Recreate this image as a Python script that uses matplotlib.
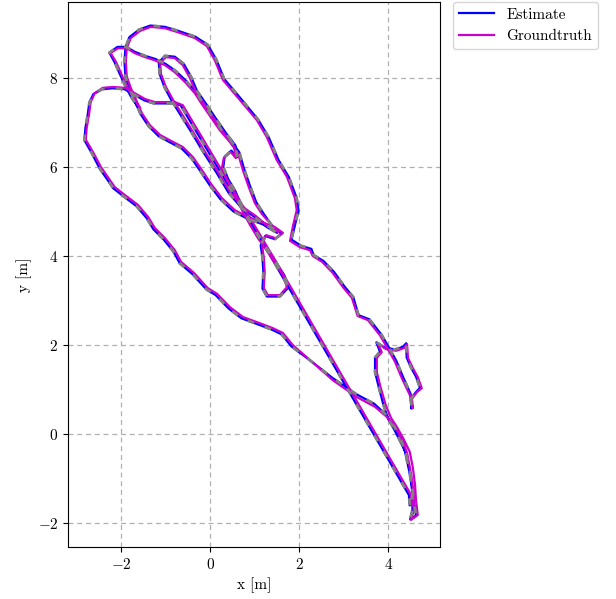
import matplotlib
matplotlib.use('Agg')
import matplotlib.pyplot as plt

# groundtruth trajectory [m]
gt_x = [4.53, 4.51, 1.40, -0.62, -0.80, -1.02, -1.25, -1.47, -1.70, -1.92,
        -2.19, -2.42, -2.60, -2.69, -2.73, -2.78, -2.80, -2.64, -2.46, -2.15,
        -1.92, -1.63, -1.40, -1.25, -1.02, -0.80, -0.66, -0.37, -0.06, 0.15,
        0.44, 0.73, 1.11, 1.40, 1.63, 1.85, 2.24, 2.75, 3.29, 3.70,
        3.97, 4.19, 4.33, 4.42, 4.48, 4.53, 4.57, 4.57, 4.51, 4.66,
        4.62, 4.60, 4.55, 4.48, 4.35, 4.19, 4.06, 3.94, 3.83, 3.74,
        3.74, 3.85, 3.76, 3.94, 4.17, 4.35, 4.42, 4.44, 4.55, 4.66,
        4.75, 4.64, 4.53, 4.55, 4.48, 4.30, 4.15, 3.99, 3.81, 3.54,
        3.31, 3.18, 2.98, 2.75, 2.51, 2.30, 2.24, 2.01, 1.79, 1.85,
        1.94, 1.90, 1.72, 1.49, 1.27, 1.04, 0.66, 0.28, 0.10, -0.08,
        -0.35, -0.73, -1.02, -1.34, -1.58, -1.79, -1.88, -1.90, -1.88, -1.79,
        -1.67, -1.54, -1.36, -1.13, -0.87, -0.62, -0.39, -0.19, 0.03, 0.26,
        0.55, 0.84, 1.16, 1.45, 1.63, 1.47, 1.25, 1.16, 1.20, 1.22,
        1.20, 1.29, 1.56, 1.72, 1.63, 1.45, 1.29, 1.07, 0.89, 0.71,
        0.53, 0.37, 0.26, 0.30, 0.46, 0.57, 0.53, 0.35, 0.10, -0.12,
        -0.33, -0.46, -0.62, -0.80, -1.00, -1.13, -1.11, -1.00, -0.84, -0.64,
        -0.39, -0.12, 0.17, 0.44, 0.73, 1.02, 1.29, 1.52, 1.16, 1.00,
        0.87, 0.73, 0.62, 0.44, 0.21, 0.01, -0.21, -0.35, -0.57, -0.80,
        -1.02, -1.25, -1.47, -1.70, -1.88, -2.08, -2.24, -2.12, -2.01, -1.90,
        -1.76, -1.58]
gt_y = [-1.60, -1.37, 4.00, 7.39, 7.46, 7.46, 7.46, 7.53, 7.66, 7.78,
        7.80, 7.78, 7.66, 7.46, 7.17, 6.88, 6.61, 6.34, 6.00, 5.55,
        5.37, 5.15, 4.88, 4.63, 4.40, 4.13, 3.87, 3.62, 3.28, 3.15,
        2.85, 2.63, 2.49, 2.38, 2.27, 2.00, 1.66, 1.21, 0.83, 0.61,
        0.38, 0.09, -0.18, -0.43, -0.74, -1.03, -1.37, -1.71, -1.93, -1.82,
        -1.48, -1.15, -0.76, -0.40, -0.13, 0.16, 0.36, 0.65, 1.03, 1.39,
        1.71, 1.84, 2.04, 1.91, 1.87, 1.93, 2.02, 1.71, 1.48, 1.28,
        1.03, 0.94, 0.79, 0.58, 0.88, 1.26, 1.62, 1.91, 2.22, 2.56,
        2.65, 3.06, 3.30, 3.62, 3.87, 4.00, 4.13, 4.20, 4.34, 4.65,
        5.03, 5.30, 5.78, 6.16, 6.67, 7.06, 7.51, 7.96, 8.40, 8.72,
        8.90, 9.03, 9.12, 9.15, 9.06, 8.90, 8.67, 8.36, 8.04, 7.78,
        7.51, 7.21, 6.94, 6.72, 6.58, 6.45, 6.22, 5.93, 5.60, 5.30,
        5.03, 4.88, 4.76, 4.65, 4.52, 4.40, 4.47, 4.25, 3.96, 3.64,
        3.28, 3.12, 3.12, 3.30, 3.57, 3.84, 4.09, 4.40, 4.70, 5.03,
        5.44, 5.71, 5.98, 6.20, 6.34, 6.20, 6.47, 6.70, 7.06, 7.39,
        7.69, 8.00, 8.29, 8.45, 8.47, 8.34, 8.09, 7.80, 7.51, 7.19,
        6.79, 6.34, 5.89, 5.44, 5.10, 4.90, 4.67, 4.54, 4.94, 5.19,
        5.53, 5.93, 6.31, 6.56, 6.83, 7.12, 7.44, 7.66, 7.91, 8.13,
        8.29, 8.40, 8.47, 8.56, 8.67, 8.67, 8.56, 8.36, 8.11, 7.87,
        7.60, 7.33]

# estimated trajectory [m]
est_x = [4.48, 4.46, 1.35, -0.67, -0.82, -1.04, -1.27, -1.49, -1.72, -1.93,
         -2.19, -2.43, -2.63, -2.72, -2.76, -2.81, -2.83, -2.67, -2.49, -2.18,
         -1.95, -1.66, -1.43, -1.28, -1.05, -0.83, -0.69, -0.40, -0.09, 0.12,
         0.41, 0.70, 1.08, 1.37, 1.60, 1.82, 2.22, 2.73, 3.27, 3.68,
         3.93, 4.14, 4.28, 4.37, 4.44, 4.50, 4.54, 4.54, 4.49, 4.62,
         4.57, 4.53, 4.47, 4.39, 4.26, 4.11, 3.99, 3.89, 3.79, 3.70,
         3.70, 3.81, 3.73, 3.92, 4.15, 4.33, 4.40, 4.41, 4.51, 4.62,
         4.71, 4.61, 4.50, 4.52, 4.50, 4.33, 4.18, 4.02, 3.84, 3.57,
         3.33, 3.21, 3.01, 2.78, 2.54, 2.32, 2.27, 2.04, 1.82, 1.89,
         1.98, 1.94, 1.76, 1.53, 1.31, 1.07, 0.69, 0.31, 0.13, -0.06,
         -0.34, -0.72, -1.02, -1.35, -1.60, -1.82, -1.91, -1.93, -1.91, -1.82,
         -1.70, -1.57, -1.39, -1.16, -0.90, -0.65, -0.42, -0.22, 0.00, 0.23,
         0.52, 0.81, 1.13, 1.42, 1.60, 1.45, 1.23, 1.13, 1.17, 1.19,
         1.17, 1.27, 1.56, 1.75, 1.66, 1.48, 1.32, 1.10, 0.92, 0.74,
         0.56, 0.40, 0.29, 0.32, 0.47, 0.60, 0.56, 0.38, 0.13, -0.09,
         -0.30, -0.43, -0.60, -0.80, -1.02, -1.16, -1.14, -1.03, -0.87, -0.67,
         -0.42, -0.15, 0.14, 0.41, 0.70, 0.99, 1.27, 1.50, 1.19, 1.03,
         0.90, 0.76, 0.65, 0.47, 0.24, 0.04, -0.18, -0.32, -0.54, -0.78,
         -1.01, -1.24, -1.47, -1.70, -1.89, -2.09, -2.27, -2.15, -2.04, -1.93,
         -1.79, -1.61]
est_y = [-1.60, -1.37, 4.00, 7.39, 7.43, 7.43, 7.43, 7.50, 7.63, 7.75,
         7.77, 7.75, 7.64, 7.45, 7.16, 6.87, 6.60, 6.32, 5.97, 5.52,
         5.34, 5.12, 4.85, 4.60, 4.37, 4.10, 3.84, 3.59, 3.25, 3.12,
         2.82, 2.60, 2.46, 2.35, 2.24, 1.97, 1.67, 1.27, 0.90, 0.68,
         0.45, 0.15, -0.12, -0.38, -0.70, -1.00, -1.35, -1.70, -1.92, -1.83,
         -1.49, -1.15, -0.76, -0.42, -0.15, 0.14, 0.35, 0.65, 1.03, 1.39,
         1.72, 1.85, 2.06, 1.94, 1.90, 1.96, 2.04, 1.72, 1.49, 1.29,
         1.04, 0.93, 0.78, 0.57, 0.90, 1.28, 1.64, 1.93, 2.24, 2.58,
         2.67, 3.08, 3.32, 3.64, 3.89, 4.02, 4.16, 4.23, 4.37, 4.65,
         5.03, 5.30, 5.78, 6.16, 6.67, 7.07, 7.53, 7.98, 8.42, 8.75,
         8.93, 9.06, 9.15, 9.18, 9.09, 8.92, 8.68, 8.36, 8.04, 7.77,
         7.49, 7.19, 6.92, 6.69, 6.55, 6.42, 6.19, 5.90, 5.57, 5.27,
         5.00, 4.85, 4.73, 4.62, 4.50, 4.38, 4.45, 4.24, 3.96, 3.64,
         3.27, 3.09, 3.09, 3.29, 3.57, 3.85, 4.10, 4.42, 4.72, 5.05,
         5.46, 5.73, 6.00, 6.23, 6.37, 6.22, 6.49, 6.72, 7.08, 7.41,
         7.71, 8.02, 8.32, 8.48, 8.50, 8.35, 8.09, 7.79, 7.49, 7.17,
         6.77, 6.32, 5.87, 5.42, 5.08, 4.88, 4.65, 4.52, 4.96, 5.21,
         5.55, 5.95, 6.33, 6.58, 6.85, 7.14, 7.46, 7.68, 7.93, 8.16,
         8.32, 8.43, 8.50, 8.59, 8.70, 8.70, 8.57, 8.35, 8.10, 7.86,
         7.59, 7.32]

x_ticks = [-2, 0, 2, 4]
y_ticks = [-2, 0, 2, 4, 6, 8]


def do_plot():
    plt.rcParams['font.family'] = 'serif'
    plt.rcParams['font.serif'] = ['cmr10']
    plt.rcParams['mathtext.fontset'] = 'cm'
    plt.rcParams['axes.formatter.use_mathtext'] = True
    plt.rcParams['font.size'] = 11

    fig = plt.figure(figsize=(6.16, 5.99), dpi=100)
    ax = fig.add_axes([0.1104, 0.0868, 0.6039, 0.9099])

    ax.plot(est_x, est_y, color='blue', lw=1.6, label='Estimate', zorder=3)
    ax.plot(gt_x, gt_y, color='#cc00cc', lw=1.6, label='Groundtruth', zorder=4)
    ax.plot(est_x, est_y, color='gray', lw=2.0, ls=(0, (2.5, 4.0)), zorder=5)

    ax.set_xlim(-3.20, 5.16)
    ax.set_ylim(-2.54, 9.71)
    ax.set_xticks(x_ticks)
    ax.set_yticks(y_ticks)
    ax.grid(True, ls=(0, (4, 3)), color='#b0b0b0', lw=0.9)
    ax.set_axisbelow(True)
    ax.set_xlabel('x [m]')
    ax.set_ylabel('y [m]')

    ax.legend(loc='upper left', bbox_to_anchor=(1.035, 1.0), borderaxespad=0,
              handlelength=2.3, fontsize=11)

    plt.savefig('out.png', dpi=100)


if __name__ == "__main__":
    do_plot()
